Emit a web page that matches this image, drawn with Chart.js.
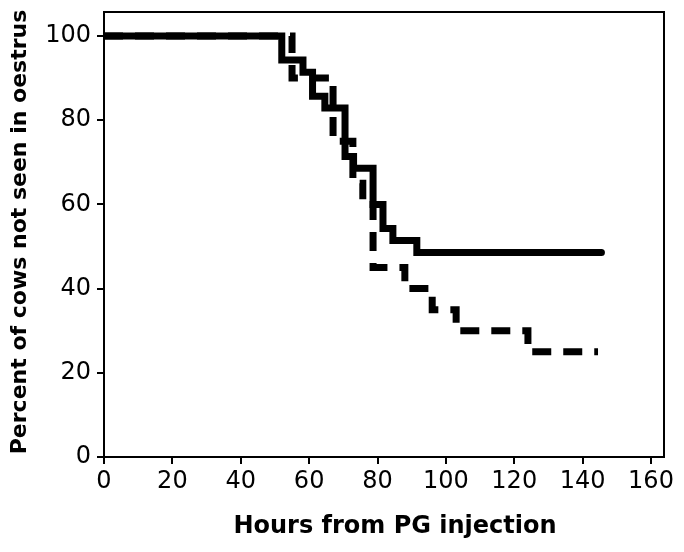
<!DOCTYPE html>
<html>
<head>
<meta charset="utf-8">
<script src="https://cdn.jsdelivr.net/npm/chart.js@4/dist/chart.umd.min.js"></script>
<style>
  html, body { margin: 0; padding: 0; background: #fff; }
  #wrap { width: 684px; height: 552px; }
</style>
</head>
<body>
<div id="wrap"><canvas id="myChart" width="684" height="552"></canvas></div>
<script>
// survival steps: hour of each drop and the percent left after it
const solidHours = [0, 52, 58.2, 61, 64.6, 70.5, 73, 78.7, 81.6, 84.5, 91.5, 145.5]
const solidPct = [100, 94.3, 91.4, 85.7, 82.9, 71.4, 68.6, 60, 54.3, 51.4, 48.6, 48.6]
const dashedHours = [0, 55, 67, 72.8, 75.7, 78.7, 88, 96, 103, 124, 144.5]
const dashedPct = [100, 90, 75, 65, 60, 45, 40, 35, 30, 25, 25]

const xTicks = [0, 20, 40, 60, 80, 100, 120, 140, 160]
const yTicks = [0, 20, 40, 60, 80, 100]

const xTitle = 'Hours from PG injection'
const yTitle = 'Percent of cows not seen in oestrus'

const tickFont = { size: 24, family: "'DejaVu Sans', sans-serif" }

function puntos(xs, ys) {
  return xs.map((x, i) => ({ x: x, y: ys[i] }))
}

// box round the plot area plus the two axis titles
const marco = {
  id: 'marco',
  afterDraw(chart) {
    const { ctx, chartArea } = chart
    ctx.save()
    ctx.strokeStyle = '#000'
    ctx.lineWidth = 2
    ctx.strokeRect(chartArea.left, chartArea.top, chartArea.right - chartArea.left, chartArea.bottom - chartArea.top)
    ctx.fillStyle = '#000'
    ctx.textAlign = 'center'
    ctx.textBaseline = 'middle'
    ctx.font = "bold 24px 'DejaVu Sans', sans-serif"
    ctx.fillText(xTitle, 395, 527)
    ctx.font = "bold 22px 'DejaVu Sans', sans-serif"
    ctx.translate(20, 232)
    ctx.rotate(-Math.PI / 2)
    ctx.fillText(yTitle, 0, 0)
    ctx.restore()
  }
}

const ctx = document.getElementById('myChart').getContext('2d')
const myChart = new Chart(ctx, {
  type: 'line',
  data: {
    datasets: [{
      label: 'solid',
      data: puntos(solidHours, solidPct),
      borderColor: '#000',
      borderWidth: 7,
      stepped: true,
      pointRadius: 0,
      fill: false,
      borderJoinStyle: 'miter',
      borderCapStyle: 'round'
    }, {
      label: 'dashed',
      data: puntos(dashedHours, dashedPct),
      borderColor: '#000',
      borderWidth: 7,
      borderDash: [19, 12],
      stepped: true,
      pointRadius: 0,
      fill: false,
      borderJoinStyle: 'miter',
      borderCapStyle: 'butt'
    }]
  },
  options: {
    responsive: false,
    animation: false,
    layout: { padding: { top: 12, right: 20, left: 0, bottom: 0 } },
    plugins: {
      legend: { display: false },
      tooltip: { enabled: false }
    },
    scales: {
      x: {
        type: 'linear',
        min: 0,
        max: 163.8,
        afterFit(scale) {
          scale.height = 95
          scale.paddingLeft = 0
          scale.paddingRight = 0
        },
        afterBuildTicks(scale) { scale.ticks = xTicks.map(v => ({ value: v })) },
        border: { display: true, color: '#000', width: 2 },
        grid: { display: true, drawOnChartArea: false, drawTicks: true, tickLength: 7, color: '#000', lineWidth: 2 },
        ticks: { color: '#000', font: tickFont, padding: 3, maxRotation: 0 }
      },
      y: {
        type: 'linear',
        min: 0,
        max: 105.7,
        afterFit(scale) {
          scale.width = 104
          scale.paddingTop = 0
          scale.paddingBottom = 0
        },
        afterBuildTicks(scale) { scale.ticks = yTicks.map(v => ({ value: v })) },
        border: { display: true, color: '#000', width: 2 },
        grid: { display: true, drawOnChartArea: false, drawTicks: true, tickLength: 7, color: '#000', lineWidth: 2 },
        ticks: { color: '#000', font: tickFont, padding: 6 }
      }
    }
  },
  plugins: [marco]
})
</script>
</body>
</html>
